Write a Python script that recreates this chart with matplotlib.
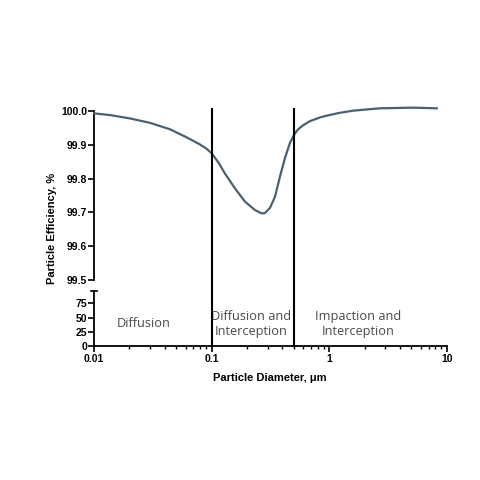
import matplotlib
matplotlib.use("Agg")
from matplotlib import pyplot as plt
from matplotlib.ticker import LogLocator, NullFormatter, FixedLocator, FixedFormatter

diameter = [0.01, 0.01368, 0.02023, 0.0299, 0.04422, 0.06133, 0.0795, 0.09, 0.1, 0.115,
            0.1297, 0.1578, 0.1918, 0.2333, 0.266, 0.2838, 0.3127, 0.3451, 0.3802,
            0.4198, 0.4624, 0.5, 0.54, 0.6, 0.6839, 0.85, 1.0, 1.2, 1.59, 2.69, 5.13, 8.2]
efficiency = [99.993, 99.988, 99.978, 99.965, 99.946, 99.922, 99.901, 99.889, 99.875, 99.846,
              99.815, 99.771, 99.732, 99.707, 99.697, 99.698, 99.713, 99.746, 99.805,
              99.861, 99.905, 99.929, 99.945, 99.958, 99.970, 99.982, 99.988, 99.994,
              100.001, 100.008, 100.01, 100.008]

boundaries = [0.1, 0.5]
regions = ["Diffusion", "Diffusion and\nInterception", "Impaction and\nInterception"]
region_x = [0.0266, 0.216, 1.75]

x_ticks = [0.01, 0.1, 1, 10]
x_labels = ["0.01", "0.1", "1", "10"]
upper_ticks = [99.5, 99.6, 99.7, 99.8, 99.9, 100.0]
lower_ticks = [0, 25, 50, 75]

line_color = "#4b6170"
tick_font = dict(family="Liberation Sans", weight="bold", size=7.5)

fig = plt.figure(figsize=(4.8, 4.8), dpi=100)
ax_up = fig.add_axes([0.196, 0.4167, 0.735, 0.352])
ax_lo = fig.add_axes([0.196, 0.279, 0.735, 0.115])

for ax in (ax_up, ax_lo):
    ax.set_xscale("log")
    ax.set_xlim(0.01, 10)
    ax.spines["top"].set_visible(False)
    ax.spines["right"].set_visible(False)
    ax.spines["left"].set_linewidth(1.3)
    ax.tick_params(axis="y", direction="out", length=4, width=1.2, pad=1)

ax_up.plot(diameter, efficiency, color=line_color, lw=1.6, clip_on=False, zorder=3,
           solid_joinstyle="round")
ax_up.set_ylim(99.5, 100.0)
ax_up.set_yticks(upper_ticks)
ax_up.set_yticklabels([f"{v:.1f}" for v in upper_ticks], **tick_font)
ax_up.spines["bottom"].set_visible(False)
ax_up.tick_params(axis="x", which="both", bottom=False, labelbottom=False)

ax_lo.set_ylim(0, 97)
ax_lo.set_yticks(lower_ticks)
ax_lo.set_yticklabels([str(v) for v in lower_ticks], **tick_font)
ax_lo.spines["bottom"].set_linewidth(1.3)
ax_lo.xaxis.set_major_locator(FixedLocator(x_ticks))
ax_lo.xaxis.set_major_formatter(FixedFormatter(x_labels))
ax_lo.xaxis.set_minor_locator(LogLocator(base=10, subs=range(2, 10)))
ax_lo.xaxis.set_minor_formatter(NullFormatter())
ax_lo.tick_params(axis="x", which="major", direction="out", length=4, width=1.2, pad=2)
ax_lo.tick_params(axis="x", which="minor", direction="out", length=2.5, width=1.0)
for lab in ax_lo.get_xticklabels():
    lab.set(**tick_font)

# cap mark at the top of the lower axis
ax_lo.plot([0.0095, 0.0105], [97, 97], color="black", lw=1.2, clip_on=False)

for b in boundaries:
    ax_lo.axvline(b, ymin=0, ymax=4.29, color="black", lw=1.5, clip_on=False, zorder=4)

for x, txt in zip(region_x, regions):
    ax_lo.text(x, 39, txt, ha="center", va="center", fontsize=9.2, family="Open Sans",
               color="#4a4a4a", linespacing=1.2)

fig.text(0.108, 0.525, "Particle Efficiency, %", rotation=90, ha="center", va="center",
         family="Liberation Sans", weight="bold", size=8)
fig.text(0.563, 0.213, "Particle Diameter, \u03bcm", ha="center", va="center",
         family="Liberation Sans", weight="bold", size=8)

fig.savefig("out.png", dpi=100)
